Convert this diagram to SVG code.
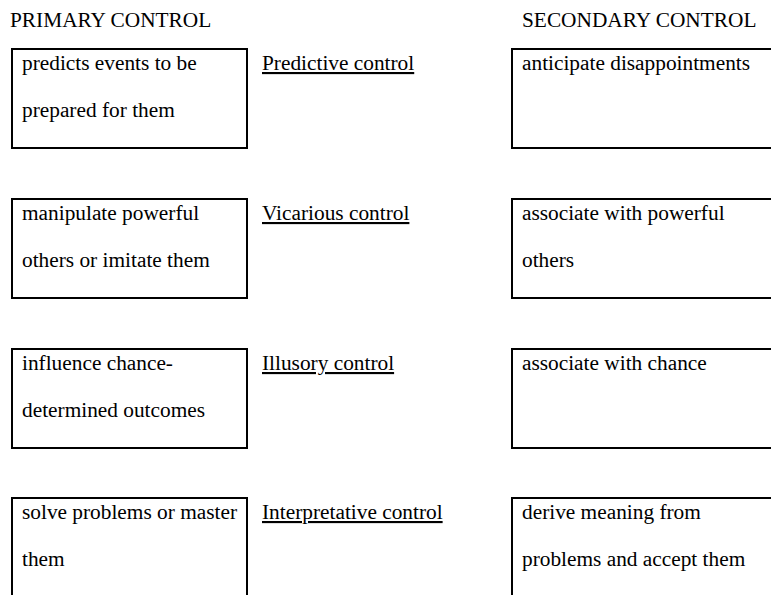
<svg xmlns="http://www.w3.org/2000/svg" width="771" height="595" viewBox="0 0 771 595">
<style>
text{font-family:"Liberation Serif","Times New Roman",serif;font-size:21.33px;fill:#000}
.box{fill:#fff;stroke:#000;stroke-width:2}
.u{text-decoration:underline}
</style>
<rect width="771" height="595" fill="#fff"/>
<g id="headers">
<text x="10" y="27">PRIMARY CONTROL</text>
<text x="522" y="27">SECONDARY CONTROL</text>
</g>
<g id="primary-predictive"><rect class="box" x="12" y="49" width="235" height="99"/>
<text x="22" y="70">predicts events to be</text><text x="22" y="117">prepared for them</text></g>
<g id="label-predictive"><text class="u" x="262" y="70">Predictive control</text></g>
<g id="secondary-predictive"><rect class="box" x="512" y="49" width="300" height="99"/>
<text x="522" y="70">anticipate disappointments</text></g>

<g id="primary-vicarious"><rect class="box" x="12" y="199" width="235" height="99"/>
<text x="22" y="220">manipulate powerful</text><text x="22" y="267">others or imitate them</text></g>
<g id="label-vicarious"><text class="u" x="262" y="220">Vicarious control</text></g>
<g id="secondary-vicarious"><rect class="box" x="512" y="199" width="300" height="99"/>
<text x="522" y="220">associate with powerful</text><text x="522" y="267">others</text></g>

<g id="primary-illusory"><rect class="box" x="12" y="349" width="235" height="99"/>
<text x="22" y="370">influence chance-</text><text x="22" y="417">determined outcomes</text></g>
<g id="label-illusory"><text class="u" x="262" y="370">Illusory control</text></g>
<g id="secondary-illusory"><rect class="box" x="512" y="349" width="300" height="99"/>
<text x="522" y="370">associate with chance</text></g>

<g id="primary-interpretative"><rect class="box" x="12" y="498" width="235" height="120"/>
<text x="22" y="519">solve problems or master</text><text x="22" y="566">them</text></g>
<g id="label-interpretative"><text class="u" x="262" y="519">Interpretative control</text></g>
<g id="secondary-interpretative"><rect class="box" x="512" y="498" width="300" height="120"/>
<text x="522" y="519">derive meaning from</text><text x="522" y="566">problems and accept them</text></g>
<g id="connectors"/>
</svg>
